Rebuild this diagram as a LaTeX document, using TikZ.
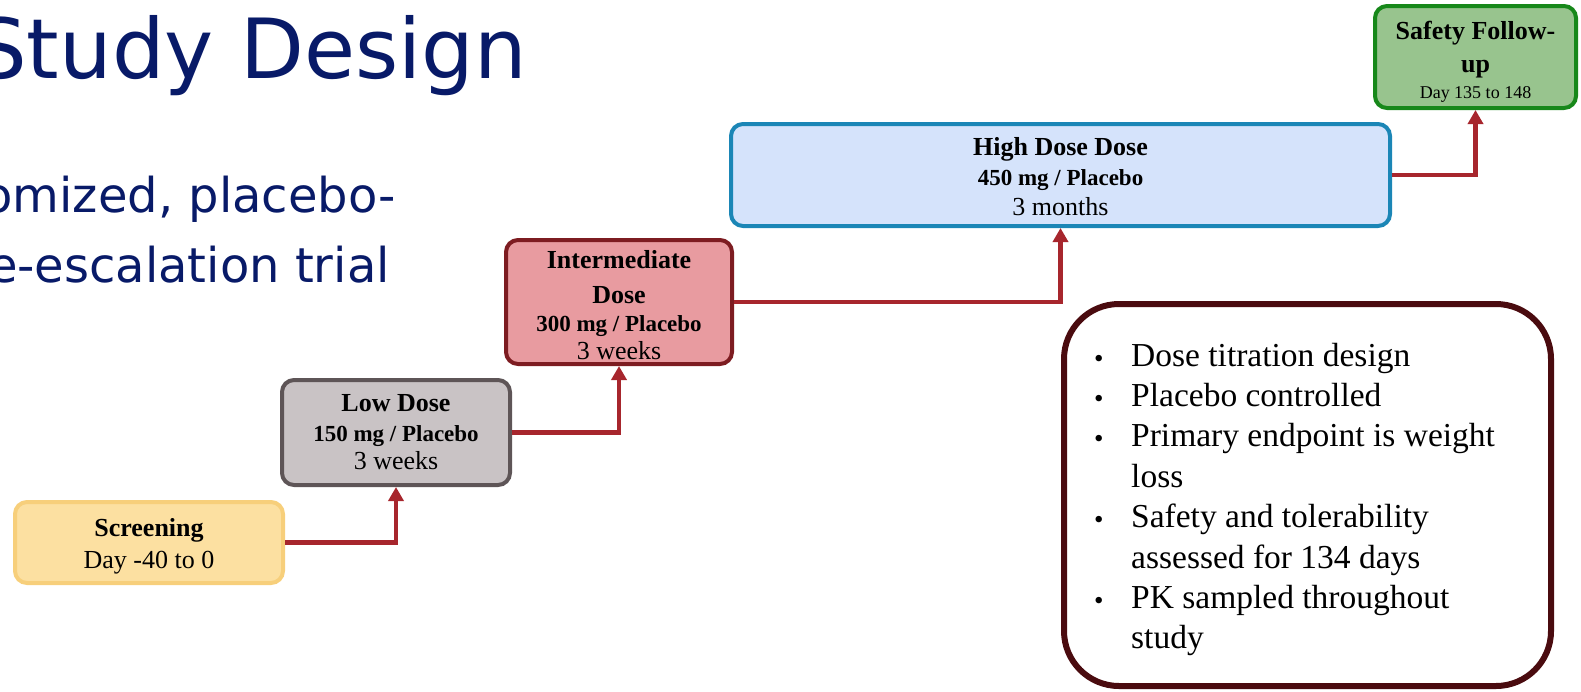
\documentclass[tikz,border=0pt]{standalone}
\usepackage{fontspec}
\setmainfont{Liberation Serif}
\newfontfamily\slidefont{DejaVu Sans}
\usepackage{tikz}
\usetikzlibrary{arrows.meta}
\definecolor{navy}{RGB}{8,26,104}
\definecolor{arrowred}{RGB}{167,38,45}
\definecolor{screenfill}{RGB}{252,224,161}
\definecolor{screenline}{RGB}{247,207,123}
\definecolor{lowfill}{RGB}{201,195,197}
\definecolor{lowline}{RGB}{94,85,87}
\definecolor{interfill}{RGB}{232,155,160}
\definecolor{interline}{RGB}{125,28,33}
\definecolor{highfill}{RGB}{213,227,251}
\definecolor{highline}{RGB}{27,134,182}
\definecolor{safefill}{RGB}{152,196,142}
\definecolor{safeline}{RGB}{23,136,26}
\definecolor{notesline}{RGB}{74,11,15}
\newcommand{\pointdot}{{\fontsize{27}{27}\selectfont\raisebox{-1pt}{\textbullet}}}

\begin{document}
\begin{tikzpicture}[x=1pt, y=-1pt,
    stage/.style={draw, line width=4pt, rounded corners=12pt, align=center, inner sep=0pt, font=\fontsize{26}{30}\selectfont},
    flow/.style={draw=arrowred, line width=4.5pt, -{Triangle[length=14pt,width=15pt]}},
    heading/.style={text=navy, anchor=base east, inner sep=0pt}]
  \useasboundingbox (0,0) rectangle (1581,691);
  \clip (0,0) rectangle (1581,691);
  \node[heading, font=\slidefont\fontsize{83}{83}\selectfont] (title) at (527,78) {Study Design};
  \node[heading, font=\slidefont\fontsize{48}{48}\selectfont] (lineA) at (396,212) {omized, placebo-};
  \node[heading, font=\slidefont\fontsize{48}{48}\selectfont] (lineB) at (390,282) {e-escalation trial};
  \node[stage, fill=screenfill, draw=screenline, minimum width=268pt, minimum height=81pt] (screen) at (149,542.5) {\rule{0pt}{26pt}\textbf{Screening}\\[2pt] Day -40 to 0};
  \node[stage, fill=lowfill, draw=lowline, minimum width=228pt, minimum height=105pt] (low) at (396,432.5) {\textbf{Low Dose}\\ {\fontsize{23}{28}\selectfont\bfseries 150 mg / Placebo}\\[-2pt] 3 weeks};
  \node[stage, fill=interfill, draw=interline, minimum width=226pt, minimum height=124pt] (inter) at (619,302) {\rule{0pt}{24pt}\textbf{Intermediate}\\[5pt] \textbf{Dose}\\[-2pt] {\fontsize{23}{28}\selectfont\bfseries 300 mg / Placebo}\\[-2pt] 3 weeks};
  \node[stage, fill=highfill, draw=highline, minimum width=659pt, minimum height=102pt] (high) at (1060.5,175) {\rule{0pt}{21pt}\textbf{High Dose Dose}\\ {\fontsize{23}{28}\selectfont\bfseries 450 mg / Placebo}\\ 3 months};
  \node[stage, fill=safefill, draw=safeline, minimum width=201pt, minimum height=102pt] (safety) at (1475.5,57) {\rule{0pt}{28pt}\textbf{Safety Follow-}\\[3pt] \textbf{up}\\[-4pt] {\fontsize{18}{22}\selectfont Day 135 to 148}};
  \draw[flow] (screen.east) -| (low.south);
  \draw[flow] (low.east) -| (inter.south);
  \draw[flow] (inter.east) -| (high.south);
  \draw[flow] (high.east) -| (safety.south);
  \node[draw=notesline, fill=white, line width=6pt, rounded corners=55pt, minimum width=487pt, minimum height=382pt] (notes) at (1307.5,495) {};
  \node[anchor=base west, inner sep=0pt, font=\fontsize{33.5}{40.4}\selectfont] (points) at (1094,366) {%
    \begin{tabular}[t]{@{}p{37pt}@{}l@{}}
      \pointdot & Dose titration design\\
      \pointdot & Placebo controlled\\
      \pointdot & Primary endpoint is weight\\
      & loss\\
      \pointdot & Safety and tolerability\\
      & assessed for 134 days\\
      \pointdot & PK sampled throughout\\
      & study
    \end{tabular}};
\end{tikzpicture}
\end{document}
